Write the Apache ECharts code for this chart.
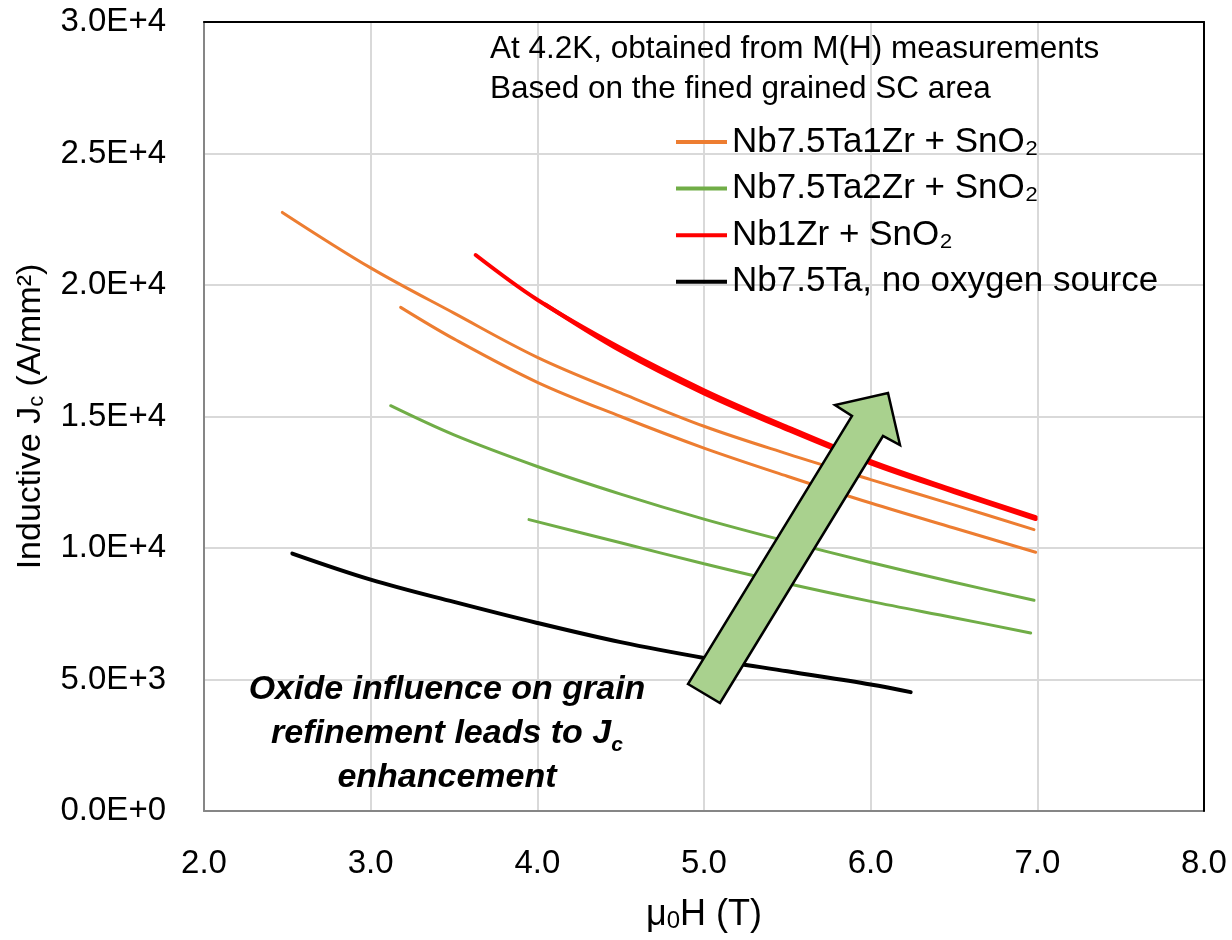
<!DOCTYPE html>
<html>
<head>
<meta charset="utf-8">
<script src="https://cdn.jsdelivr.net/npm/echarts@6/dist/echarts.min.js"></script>
<style>
html,body{margin:0;padding:0;background:#fff;}
#chart{width:1232px;height:940px;}
</style>
</head>
<body>
<div id="chart"></div>
<script>
// ---- data (field in T, Jc in A/mm^2) ----
const seriesNames = ['Nb7.5Ta1Zr + SnO\u2082', 'Nb7.5Ta2Zr + SnO\u2082', 'Nb1Zr + SnO\u2082', 'Nb7.5Ta, no oxygen source'];
const seriesColors = ['#ED7D31', '#70AD47', '#FF0000', '#000000'];

const orangeA_x = [2.47, 3.0, 3.5, 4.0, 4.5, 5.0, 5.5, 6.0, 6.5, 6.98];
const orangeA_y = [22760, 20650, 18930, 17250, 15900, 14630, 13580, 12600, 11640, 10700];
const orangeB_x = [3.18, 3.5, 4.0, 4.5, 5.0, 5.5, 6.0, 6.5, 6.99];
const orangeB_y = [19150, 17950, 16300, 15000, 13800, 12730, 11710, 10760, 9840];

const greenA_x = [3.12, 3.5, 4.0, 4.5, 5.0, 5.5, 6.0, 6.5, 6.98];
const greenA_y = [15410, 14300, 13100, 12050, 11100, 10250, 9450, 8700, 8010];
const greenB_x = [3.95, 4.5, 5.0, 5.5, 6.0, 6.5, 6.96];
const greenB_y = [11080, 10200, 9400, 8650, 7970, 7350, 6770];

const redA_x = [3.63, 4.0, 4.5, 5.0, 5.5, 6.0, 6.5, 6.99];
const redA_y = [21140, 19440, 17600, 16000, 14600, 13300, 12200, 11170];
const redB_x = [4.05, 4.5, 5.0, 5.5, 6.0, 6.5, 6.99];
const redB_y = [19250, 17500, 15880, 14500, 13220, 12130, 11100];

const black_x = [2.53, 3.0, 3.5, 4.0, 4.5, 5.0, 5.5, 6.0, 6.24];
const black_y = [9790, 8800, 7950, 7150, 6420, 5820, 5310, 4810, 4520];

const xTickLabels = ['2.0', '3.0', '4.0', '5.0', '6.0', '7.0', '8.0'];
const yTickLabels = ['0.0E+0', '5.0E+3', '1.0E+4', '1.5E+4', '2.0E+4', '2.5E+4', '3.0E+4'];

function pairs(xs, ys) { return xs.map((x, i) => [x, ys[i]]); }

const FONT = '"Liberation Sans", Arial, sans-serif';

function lineSeries(name, xs, ys, color, width) {
  return {
    type: 'line', name: name, data: pairs(xs, ys), smooth: 0.35,
    showSymbol: false, symbol: 'none',
    lineStyle: { color: color, width: width, cap: 'round' },
    itemStyle: { color: color },
    z: 3
  };
}

const chart = echarts.init(document.getElementById('chart'), null, { renderer: 'canvas' });

const frameAxis = {
  type: 'value', min: 0, max: 1, interval: 1,
  axisLine: { show: true, onZero: false, lineStyle: { color: '#000', width: 2 } },
  axisTick: { show: false }, axisLabel: { show: false }, splitLine: { show: false },
  z: 6
};

chart.setOption({
  animation: false,
  backgroundColor: '#ffffff',
  grid: { left: 204, right: 28, top: 22, bottom: 129 },
  legend: {
    data: seriesNames,
    orient: 'vertical',
    left: 676, top: 119, padding: 0,
    icon: 'rect', itemWidth: 51, itemHeight: 4, itemGap: 0.6,
    textStyle: { fontFamily: FONT, fontSize: 35, color: '#000', lineHeight: 46 },
    selectedMode: false
  },
  xAxis: [{
    type: 'value', min: 2, max: 8, interval: 1,
    name: '{a|\u03bc}{s|0}{a|H (T)}',
    nameLocation: 'middle', nameGap: 86,
    nameTextStyle: {
      rich: {
        a: { fontFamily: FONT, fontSize: 36, color: '#000' },
        s: { fontFamily: FONT, fontSize: 24, color: '#000', verticalAlign: 'bottom', lineHeight: 28 }
      }
    },
    axisLine: { show: true, onZero: false, lineStyle: { color: '#868686', width: 2 } },
    axisTick: { show: false },
    splitLine: { show: true, lineStyle: { color: '#D9D9D9', width: 2 } },
    axisLabel: {
      fontFamily: FONT, fontSize: 33, color: '#000', margin: 36,
      formatter: function (v, i) { return xTickLabels[i]; }
    },
    z: 2
  }, Object.assign({ position: 'top' }, frameAxis)],
  yAxis: [{
    type: 'value', min: 0, max: 30000, interval: 5000,
    name: '{a|Inductive J}{s|c}{a| (A/mm\u00b2)}',
    nameLocation: 'middle', nameGap: 156, nameRotate: 90,
    nameTextStyle: {
      rich: {
        a: { fontFamily: FONT, fontSize: 34, color: '#000' },
        s: { fontFamily: FONT, fontSize: 22, color: '#000', verticalAlign: 'bottom', lineHeight: 28 }
      }
    },
    axisLine: { show: true, onZero: false, lineStyle: { color: '#868686', width: 2 } },
    axisTick: { show: false },
    splitLine: { show: true, lineStyle: { color: '#D9D9D9', width: 2 } },
    axisLabel: {
      fontFamily: FONT, fontSize: 33, color: '#000', margin: 38,
      formatter: function (v, i) { return yTickLabels[i]; }
    },
    z: 2
  }, Object.assign({ position: 'right' }, frameAxis)],
  series: [
    lineSeries(seriesNames[0], orangeA_x, orangeA_y, seriesColors[0], 3),
    lineSeries(seriesNames[0], orangeB_x, orangeB_y, seriesColors[0], 3),
    lineSeries(seriesNames[1], greenA_x, greenA_y, seriesColors[1], 3),
    lineSeries(seriesNames[1], greenB_x, greenB_y, seriesColors[1], 3),
    lineSeries(seriesNames[2], redA_x, redA_y, seriesColors[2], 4),
    lineSeries(seriesNames[2], redB_x, redB_y, seriesColors[2], 4),
    lineSeries(seriesNames[3], black_x, black_y, seriesColors[3], 4)
  ],
  graphic: [
    {
      type: 'text', x: 490, y: 29, z: 10,
      style: {
        text: 'At 4.2K, obtained from M(H) measurements\nBased on the fined grained SC area',
        fontFamily: FONT, fontSize: 31.5, fill: '#000', lineHeight: 40, align: 'left', verticalAlign: 'top'
      }
    },
    {
      type: 'polygon', z: 20,
      shape: { points: [[688, 684], [720, 703], [883, 436], [900, 445], [888, 393], [835, 405], [852, 416]] },
      style: { fill: '#A9D18E', stroke: '#000', lineWidth: 2.5, lineJoin: 'miter' }
    },
    {
      type: 'text', x: 447, y: 668, z: 25,
      style: {
        text: '{b|Oxide influence on grain}\n{b|refinement leads to J}{s|c}\n{b|enhancement}',
        align: 'center', verticalAlign: 'top',
        rich: {
          b: { fontFamily: FONT, fontSize: 34, fontWeight: 'bold', fontStyle: 'italic', fill: '#000', lineHeight: 44 },
          s: { fontFamily: FONT, fontSize: 21, fontWeight: 'bold', fontStyle: 'italic', fill: '#000', lineHeight: 22, verticalAlign: 'bottom' }
        }
      }
    }
  ]
});
</script>
</body>
</html>
